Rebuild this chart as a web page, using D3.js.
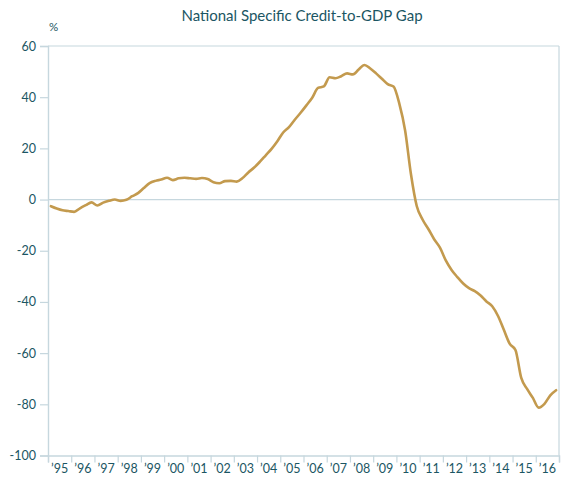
<!DOCTYPE html>
<html><head><meta charset="utf-8">
<script src="https://cdn.jsdelivr.net/npm/d3@7"></script>
<style>
html,body{margin:0;padding:0;background:#fff;}
svg{display:block;}
text{font-family:"Lato","Open Sans",sans-serif;fill:#1b5663;}
</style></head>
<body>
<script>
const title = "National Specific Credit-to-GDP Gap";
const unitLabel = "%";
const startQuarter = "1995Q1";
const gapValues = [
 -2.6,-3.5,-4.2,-4.5, -4.8,-3.4,-2.2,-1.1, -2.3,-1.2,-0.5,0.0, -0.5,-0.1,1.3,2.5,
 4.5,6.4,7.3,7.8, 8.5,7.6,8.3,8.5, 8.3,8.1,8.4,8.0, 6.8,6.4,7.2,7.3,
 7.0,8.4,10.6,12.5, 14.8,17.3,19.8,22.8, 26.2,28.3,31.2,33.9, 36.8,39.8,43.6,44.2,
 47.8,47.4,48.2,49.3, 48.9,50.8,52.6,51.2, 49.3,47.2,45.1,44.2, 37.5,27.0,10.0,-2.5,
 -7.8,-11.5,-15.5,-18.8, -23.8,-27.5,-30.3,-32.8, -34.6,-35.8,-37.5,-39.8, -41.7,-45.5,-50.9,-56.3,
 -58.8,-69.7,-74.0,-77.5, -81.3,-79.8,-76.5,-74.5
];
const yTicks = [60,40,20,0,-20,-40,-60,-80,-100];
const yearLabels = ["’95","’96","’97","’98","’99","’00","’01","’02","’03","’04","’05","’06","’07","’08","’09","’10","’11","’12","’13","’14","’15","’16"];
const yearStarts = [1995,1996,1997,1998,1999,2000,2001,2002,2003,2004,2005,2006,2007,2008,2009,2010,2011,2012,2013,2014,2015,2016,2017];

const W = 561, H = 478;
const m = {left:48, right:2, top:46, bottom:22.5};
const svg = d3.select("body").append("svg").attr("width",W).attr("height",H);

const x = d3.scaleLinear().domain([1995,2017]).range([m.left, W-m.right]);
const y = d3.scaleLinear().domain([-100,60]).range([H-m.bottom, m.top]);

const startYear = +startQuarter.slice(0,4);
const data = gapValues.map((v,i)=>({t:startYear + 0.125 + i*0.25, v}));

const axisCol = "#c6d7de";

// gridlines at 60 and 0
svg.append("g").selectAll("line").data([60,0]).join("line")
  .attr("x1",m.left).attr("x2",W-m.right)
  .attr("y1",d=>y(d)).attr("y2",d=>y(d))
  .attr("stroke",axisCol).attr("stroke-width",1.2);

// right border
svg.append("line").attr("x1",W-m.right).attr("x2",W-m.right)
  .attr("y1",y(60)).attr("y2",y(-100)).attr("stroke",axisCol).attr("stroke-width",1.2);

// Y axis
const yAxis = svg.append("g").attr("transform",`translate(${m.left},0)`)
  .call(d3.axisLeft(y).tickValues(yTicks).tickSize(8).tickPadding(4).tickFormat(d=>String(d)));
yAxis.select(".domain").attr("stroke",axisCol).attr("stroke-width",1.4);
yAxis.selectAll(".tick line").attr("stroke",axisCol).attr("stroke-width",1.2);
yAxis.selectAll("text").attr("font-size",12.5).style("fill","#1b5663").attr("font-family","Lato, 'Open Sans', sans-serif");

// X axis
const xAxis = svg.append("g").attr("transform",`translate(0,${y(-100)})`)
  .call(d3.axisBottom(x).tickValues(yearStarts).tickSize(7).tickFormat(""));
xAxis.select(".domain").attr("stroke",axisCol).attr("stroke-width",1.4);
xAxis.selectAll(".tick line").attr("stroke",axisCol).attr("stroke-width",1.2);
svg.append("g").selectAll("text").data(yearLabels).join("text")
  .attr("x",(d,i)=>x(yearStarts[i]+0.5))
  .attr("y",y(-100)+17)
  .attr("text-anchor","middle")
  .attr("font-size",12.5)
  .text(d=>d);

// line
svg.append("path").datum(data)
  .attr("fill","none").attr("stroke","#c39a4e").attr("stroke-width",2.6)
  .attr("stroke-linejoin","round").attr("stroke-linecap","round")
  .attr("d",d3.line().x(d=>x(d.t)).y(d=>y(d.v)).curve(d3.curveMonotoneX));

// title and unit
svg.append("text").attr("x",302).attr("y",21).attr("text-anchor","middle")
  .attr("font-size",15).text(title);
svg.append("text").attr("x",49).attr("y",31).attr("font-size",11.5).text(unitLabel);
</script>
</body></html>
